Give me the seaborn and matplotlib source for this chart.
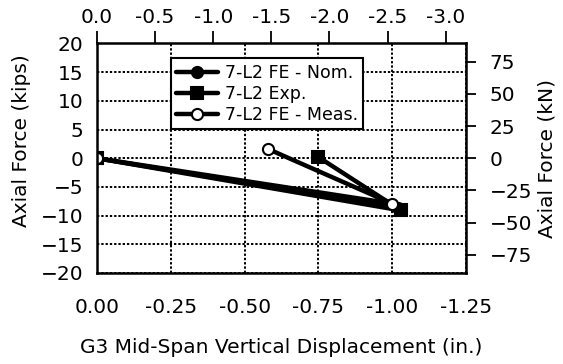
import numpy as np
import pandas as pd
import matplotlib
matplotlib.use("Agg")
import matplotlib.pyplot as plt
import seaborn as sns

# displacement (in.) and axial force (kips)
nom_x = [0.0, -1.02]
nom_y = [0.0, -8.6]
exp_x = [0.0, -1.03, -0.75]
exp_y = [0.0, -9.1, 0.2]
meas_x = [0.0, -1.00, -0.58]
meas_y = [0.0, -7.9, 1.6]

x_ticks = [0.0, -0.25, -0.50, -0.75, -1.00, -1.25]
y_ticks = [20, 15, 10, 5, 0, -5, -10, -15, -20]
cm_ticks = [0.0, -0.5, -1.0, -1.5, -2.0, -2.5, -3.0]
kn_ticks = [75, 50, 25, 0, -25, -50, -75]

sns.set_style("white")
plt.rcParams['font.family'] = ['DejaVu Sans']
plt.rcParams['text.color'] = 'black'
plt.rcParams['axes.labelcolor'] = 'black'

fs = 14.5
fig = plt.figure(figsize=(5.63, 3.64), dpi=100)
ax = fig.add_axes([0.1723, 0.25, 0.6554, 0.6305])

series = [
    ("7-L2 FE - Nom.", nom_x, nom_y, dict(marker='o', markerfacecolor='black')),
    ("7-L2 Exp.", exp_x, exp_y, dict(marker='s', markerfacecolor='black')),
    ("7-L2 FE - Meas.", meas_x, meas_y, dict(marker='o', markerfacecolor='white')),
]
for name, xs, ys, st in series:
    df = pd.DataFrame({'x': xs, 'y': ys})
    sns.lineplot(data=df, x='x', y='y', sort=False, ax=ax, color='black',
                 linewidth=3.2, markersize=8, markeredgecolor='black',
                 markeredgewidth=1.5, label=name, **st)

ax.set_xlim(0, -1.25)
ax.set_ylim(-20, 20)
ax.set_xticks(x_ticks)
ax.set_xticklabels([f"{v:.2f}" for v in x_ticks])
ax.set_yticks(y_ticks)
ax.grid(True, color='black', linestyle=(0, (1.2, 1.0)), linewidth=1.4)
for s in ax.spines.values():
    s.set_color('black')
    s.set_linewidth(1.8)
ax.tick_params(axis='both', direction='inout', length=8, width=1.3,
               labelsize=fs, colors='black')
ax.tick_params(axis='x', pad=14)
ax.tick_params(axis='y', pad=6)
ax.set_xlabel("G3 Mid-Span Vertical Displacement (in.)", fontsize=fs)
ax.xaxis.set_label_coords(0.5, -0.285)
ax.set_ylabel("Axial Force (kips)", fontsize=fs)
ax.yaxis.set_label_coords(-0.18, 0.575)

top = ax.secondary_xaxis('top', functions=(lambda v: v * 2.54, lambda v: v / 2.54))
top.set_xticks(cm_ticks)
top.set_xticklabels([f"{v:.1f}" for v in cm_ticks])
top.tick_params(direction='out', length=9, width=1.3, labelsize=fs, pad=3,
                colors='black')

right = ax.secondary_yaxis('right', functions=(lambda v: v * 4.448, lambda v: v / 4.448))
right.set_yticks(kn_ticks)
right.tick_params(direction='out', length=7, width=1.3, labelsize=fs, pad=10,
                  colors='black')
right.set_ylabel("Axial Force (kN)", fontsize=fs, labelpad=4)

leg = ax.legend(loc='upper left', bbox_to_anchor=(0.2, 0.935), fontsize=12.5,
                frameon=True, fancybox=False, edgecolor='black', framealpha=1,
                handlelength=2.4, handletextpad=0.4, labelspacing=0.18,
                borderpad=0.3, borderaxespad=0)
leg.get_frame().set_linewidth(1.5)

fig.savefig("out.png", dpi=100)
